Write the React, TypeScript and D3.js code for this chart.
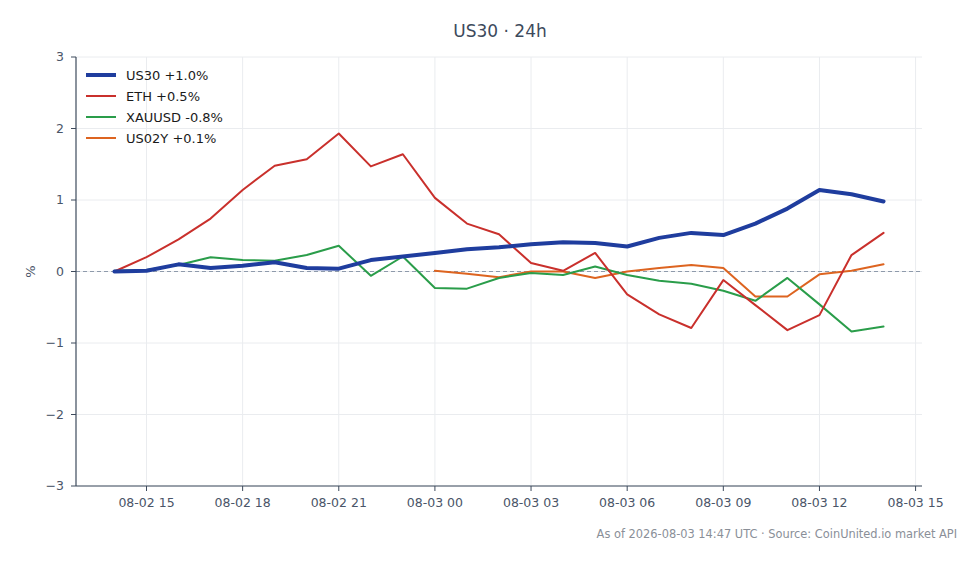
import React, { useEffect } from "react";
import * as d3 from "d3";

const startTime = Date.UTC(2026, 7, 2, 14, 0);
const hours = d3.range(25);
const times = hours.map((h) => new Date(startTime + h * 3600 * 1000));

const us30 = [0, 0.01, 0.1, 0.05, 0.08, 0.13, 0.05, 0.04, 0.16, 0.21, 0.26, 0.31, 0.34, 0.38, 0.41, 0.4, 0.35, 0.47, 0.54, 0.51, 0.67, 0.88, 1.14, 1.08, 0.98];
const eth = [0, 0.2, 0.45, 0.74, 1.14, 1.48, 1.57, 1.93, 1.47, 1.64, 1.03, 0.67, 0.52, 0.12, 0.01, 0.26, -0.32, -0.6, -0.79, -0.12, -0.47, -0.82, -0.61, 0.23, 0.54];
const xauusd = [0.01, 0.02, 0.09, 0.2, 0.16, 0.15, 0.23, 0.36, -0.06, 0.21, -0.23, -0.24, -0.09, -0.02, -0.05, 0.07, -0.05, -0.13, -0.17, -0.27, -0.41, -0.09, -0.46, -0.84, -0.77];
const us02y: (number | null)[] = [null, null, null, null, null, null, null, null, null, null, 0.01, -0.03, -0.08, 0.0, 0.0, -0.09, 0.0, 0.05, 0.09, 0.05, -0.35, -0.35, -0.04, 0.01, 0.1];

const seriesNames = ["US30 +1.0%", "ETH +0.5%", "XAUUSD -0.8%", "US02Y +0.1%"];
const seriesColors = ["#1f3d9e", "#c9302c", "#2a9d4a", "#dd6420"];
const seriesWidths = [4, 2, 2, 2];
const seriesData: (number | null)[][] = [us30, eth, xauusd, us02y];
const yTicks = [-3, -2, -1, 0, 1, 2, 3];

const titleText = "US30 · 24h";
const footerText = "As of 2026-08-03 14:47 UTC · Source: CoinUnited.io market API";

const W = 980, H = 564;
const M = { left: 76, right: 58, top: 57, bottom: 78 };

export default function App() {
  useEffect(() => {
    document.body.style.margin = "0";
  }, []);

  const t0 = times[0].getTime();
  const t1 = times[times.length - 1].getTime();
  const pad = (t1 - t0) * 0.05;
  const x = d3.scaleUtc().domain([new Date(t0 - pad), new Date(t1 + pad)]).range([M.left, W - M.right]);
  const y = d3.scaleLinear().domain([-3, 3]).range([H - M.bottom, M.top]);
  const xTicks = x.ticks(d3.utcHour.every(3)!);
  const fmt = d3.utcFormat("%m-%d %H");
  const font = "DejaVu Sans, sans-serif";
  const tickColor = "#4a5568";

  const line = d3
    .line<number | null>()
    .defined((d) => d !== null)
    .x((_, i) => x(times[i]))
    .y((d) => y(d as number));

  const yFmt = (v: number) => (v < 0 ? "\u2212" + Math.abs(v) : String(v));

  return (
    <svg width={W} height={H} style={{ display: "block", background: "#fff" }} fontFamily={font}>
      <text x={500} y={37} textAnchor="middle" fontSize={17} fill="#3d4a5c">{titleText}</text>
      {/* grid */}
      {xTicks.map((t, i) => (
        <line key={"gx" + i} x1={x(t)} x2={x(t)} y1={M.top} y2={H - M.bottom} stroke="#eaecef" strokeWidth={1} />
      ))}
      {yTicks.map((v, i) => (
        <line key={"gy" + i} x1={M.left} x2={W - M.right} y1={y(v)} y2={y(v)} stroke="#eaecef" strokeWidth={1} />
      ))}
      {/* zero line */}
      <line x1={M.left} x2={W - M.right} y1={y(0)} y2={y(0)} stroke="#8e9aab" strokeWidth={1} strokeDasharray="4,3" />
      {/* axes */}
      <line x1={M.left} x2={M.left} y1={M.top} y2={H - M.bottom} stroke="#3d4a5c" strokeWidth={1.2} />
      <line x1={M.left} x2={W - M.right} y1={H - M.bottom} y2={H - M.bottom} stroke="#3d4a5c" strokeWidth={1.2} />
      {yTicks.map((v, i) => (
        <g key={"yt" + i}>
          <line x1={M.left - 5} x2={M.left} y1={y(v)} y2={y(v)} stroke="#3d4a5c" strokeWidth={1} />
          <text x={M.left - 12} y={y(v)} dy="0.35em" textAnchor="end" fontSize={12.5} fill={tickColor}>{yFmt(v)}</text>
        </g>
      ))}
      {xTicks.map((t, i) => (
        <g key={"xt" + i}>
          <line x1={x(t)} x2={x(t)} y1={H - M.bottom} y2={H - M.bottom + 5} stroke="#3d4a5c" strokeWidth={1} />
          <text x={x(t)} y={H - M.bottom + 21} textAnchor="middle" fontSize={12.5} fill={tickColor}>{fmt(t)}</text>
        </g>
      ))}
      <text transform={`translate(35,${y(0)}) rotate(-90)`} textAnchor="middle" fontSize={13} fill={tickColor}>%</text>
      {/* series, drawn back to front so US30 sits on top */}
      {[3, 2, 1, 0].map((s) => (
        <path key={"s" + s} d={line(seriesData[s]) || ""} fill="none" stroke={seriesColors[s]} strokeWidth={seriesWidths[s]} strokeLinejoin="round" strokeLinecap="round" />
      ))}
      {/* legend */}
      {seriesNames.map((n, i) => (
        <g key={"lg" + i} transform={`translate(86,${75 + i * 21})`}>
          <line x1={0} x2={30} y1={0} y2={0} stroke={seriesColors[i]} strokeWidth={seriesWidths[i]} />
          <text x={40} y={0} dy="0.35em" fontSize={13} fill="#1a1a1a">{n}</text>
        </g>
      ))}
      <text x={957} y={538} textAnchor="end" fontSize={11.4} fill="#8a8f98">{footerText}</text>
    </svg>
  );
}
